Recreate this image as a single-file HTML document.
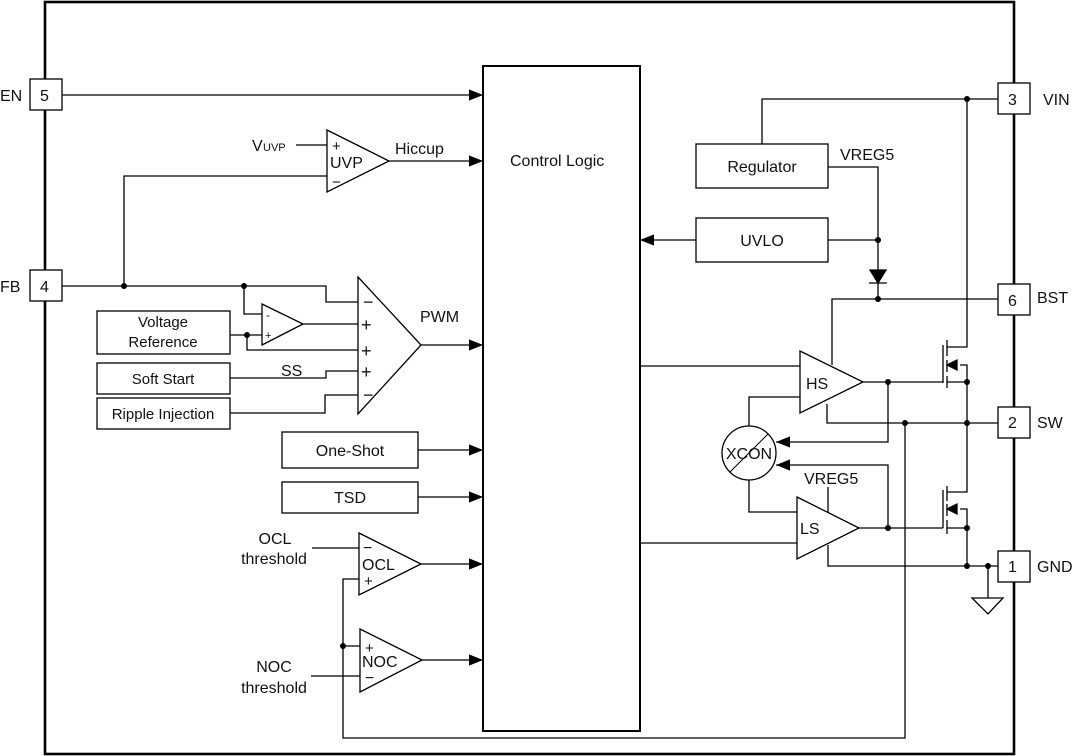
<!DOCTYPE html>
<html><head><meta charset="utf-8"><style>
html,body{margin:0;padding:0;background:#fff}
svg{display:block}
text{font-family:"Liberation Sans",Arial,sans-serif;font-size:16px;fill:#111}
</style></head><body>
<svg width="1077" height="756" viewBox="0 0 1077 756" xmlns="http://www.w3.org/2000/svg">
<defs>
<marker id="a" viewBox="0 0 10 10" refX="10" refY="5" markerWidth="14" markerHeight="14" markerUnits="userSpaceOnUse" orient="auto"><path d="M0,1 L10,5 L0,9 z" fill="#000"/></marker>
</defs>
<g fill="none" stroke="#000" stroke-width="1.3">
<rect x="45" y="2" width="969" height="752" stroke-width="2.6"/>
<rect x="483" y="66" width="157" height="665" stroke-width="2"/>
<rect x="30" y="79" width="32" height="31" fill="#fff"/>
<rect x="30" y="270" width="32" height="31" fill="#fff"/>
<rect x="998" y="83" width="32" height="31" fill="#fff"/>
<rect x="998" y="284" width="32" height="31" fill="#fff"/>
<rect x="998" y="407" width="32" height="31" fill="#fff"/>
<rect x="998" y="551" width="32" height="31" fill="#fff"/>
<path d="M62,95 H483" marker-end="url(#a)"/>
<path d="M327,130 L389,161 L327,192 Z"/>
<path d="M296,145 H327"/>
<path d="M124,286 V176 H327"/>
<path d="M389,161 H483" marker-end="url(#a)"/>
<path d="M62,286 H326 V302 H358"/>
<path d="M244,286 V314 H262"/>
<path d="M358,277 L421,345 L358,414 Z"/>
<path d="M262,304 L303,324 L262,345 Z"/>
<path d="M303,324 H358"/>
<rect x="97" y="311" width="133" height="43"/>
<path d="M230,335 H262"/>
<path d="M247,335 V350 H358"/>
<rect x="97" y="363" width="133" height="31"/>
<path d="M230,378 H326 V371 H358"/>
<rect x="97" y="398" width="133" height="31"/>
<path d="M230,413 H325 V395 H358"/>
<path d="M421,345 H483" marker-end="url(#a)"/>
<rect x="282" y="432" width="136" height="36"/>
<path d="M418,450 H483" marker-end="url(#a)"/>
<rect x="282" y="482" width="136" height="31"/>
<path d="M418,497 H483" marker-end="url(#a)"/>
<path d="M359,533 L421,564 L359,595 Z"/>
<path d="M312,548 H359"/>
<path d="M421,564 H483" marker-end="url(#a)"/>
<path d="M360,629 L422,660 L360,692 Z"/>
<path d="M311,676 H360"/>
<path d="M422,660 H483" marker-end="url(#a)"/>
<path d="M359,579 H343 V738 H905 V423"/>
<path d="M343,646 H360"/>
<rect x="696" y="144" width="132" height="44"/>
<path d="M762,144 V99 H998"/>
<path d="M828,167 H878 V270"/>
<rect x="696" y="218" width="132" height="44"/>
<path d="M828,240 H878"/>
<path d="M696,240 H640" marker-end="url(#a)"/>
<path d="M870,270 H886 L878,283 Z" fill="#000"/>
<path d="M869,283 H887 M878,283 V299"/>
<path d="M832,365 V299 H998"/>
<path d="M800,351 L863,382 L800,413 Z"/>
<path d="M640,366 H800"/>
<path d="M863,382 H943"/>
<path d="M827,404 V423 H998"/>
<path d="M888,382 V442 H776" marker-end="url(#a)"/>
<path d="M800,397 H749 V426"/>
<circle cx="749" cy="453" r="27"/>
<path d="M730,472 L768,434" stroke-width="1"/>
<path d="M888,528 V465 H776" marker-end="url(#a)"/>
<path d="M749,480 V512 H797"/>
<path d="M797,497 L859,528 L797,559 Z"/>
<path d="M640,543 H797"/>
<path d="M828,487 V512"/>
<path d="M859,528 H943"/>
<path d="M828,545 V566 H998"/>
<path d="M943,345 V383 M947,340 V356 M947,360 V372 M947,376 V388"/>
<path d="M947,347 H967 V99"/>
<path d="M960,365 H967 V382 H947"/>
<path d="M947,365 L957,360 L957,370 Z" fill="#000"/>
<path d="M967,382 V492 H947"/>
<path d="M943,490 V528 M947,486 V501 M947,504 V516 M947,520 V534"/>
<path d="M960,509 H967 V528 H947"/>
<path d="M947,509 L957,504 L957,514 Z" fill="#000"/>
<path d="M967,528 V566"/>
<path d="M988,566 V598"/>
<path d="M972,598 H1003 L988,614 Z"/>
</g>
<g fill="#000">
<circle cx="124" cy="286" r="3"/><circle cx="244" cy="286" r="3"/><circle cx="247" cy="335" r="3"/>
<circle cx="343" cy="646" r="3"/>
<circle cx="967" cy="99" r="3"/><circle cx="878" cy="240" r="3"/><circle cx="878" cy="299" r="3"/>
<circle cx="888" cy="382" r="3"/><circle cx="967" cy="382" r="3"/><circle cx="905" cy="423" r="3"/><circle cx="967" cy="423" r="3"/>
<circle cx="888" cy="528" r="3"/><circle cx="967" cy="528" r="3"/><circle cx="967" cy="566" r="3"/><circle cx="988" cy="566" r="3"/>
</g>
<g>
<text x="0" y="101">EN</text><text x="40" y="101">5</text>
<text x="0" y="292">FB</text><text x="40" y="292">4</text>
<text x="1008" y="105">3</text><text x="1043" y="105">VIN</text>
<text x="1008" y="306">6</text><text x="1037" y="303">BST</text>
<text x="1008" y="428">2</text><text x="1037" y="428">SW</text>
<text x="1008" y="572">1</text><text x="1037" y="572">GND</text>
<text x="252" y="151">V</text><text x="263" y="151" style="font-size:11px">UVP</text>
<text x="332" y="151" style="font-size:15px">+</text>
<text x="330" y="168">UVP</text>
<text x="332" y="187" style="font-size:15px">−</text>
<text x="395" y="154">Hiccup</text>
<text x="510" y="166">Control Logic</text>
<text x="363" y="308" style="font-size:18px">−</text><text x="361" y="331" style="font-size:18px">+</text><text x="361" y="357" style="font-size:18px">+</text><text x="361" y="378" style="font-size:18px">+</text><text x="363" y="401" style="font-size:18px">−</text>
<text x="266" y="319" style="font-size:12px">-</text><text x="265" y="339" style="font-size:11px">+</text>
<text x="420" y="322">PWM</text>
<text x="163" y="327" text-anchor="middle" style="font-size:15px">Voltage</text>
<text x="163" y="347" text-anchor="middle" style="font-size:15px">Reference</text>
<text x="163" y="384" text-anchor="middle" style="font-size:15px">Soft Start</text>
<text x="163" y="419" text-anchor="middle" style="font-size:15px">Ripple Injection</text>
<text x="281" y="376">SS</text>
<text x="350" y="456" text-anchor="middle">One-Shot</text>
<text x="350" y="503" text-anchor="middle">TSD</text>
<text x="275" y="544" text-anchor="middle">OCL</text>
<text x="274" y="564" text-anchor="middle">threshold</text>
<text x="363" y="553">−</text><text x="362" y="570">OCL</text><text x="364" y="586" style="font-size:15px">+</text>
<text x="274" y="672" text-anchor="middle">NOC</text>
<text x="274" y="693" text-anchor="middle">threshold</text>
<text x="365" y="653" style="font-size:15px">+</text><text x="362" y="667">NOC</text><text x="365" y="683">−</text>
<text x="762" y="172" text-anchor="middle">Regulator</text>
<text x="840" y="160">VREG5</text>
<text x="762" y="246" text-anchor="middle">UVLO</text>
<text x="806" y="389">HS</text>
<text x="749" y="459" text-anchor="middle">XCON</text>
<text x="804" y="484">VREG5</text>
<text x="800" y="534">LS</text>
</g>
</svg>
</body></html>
